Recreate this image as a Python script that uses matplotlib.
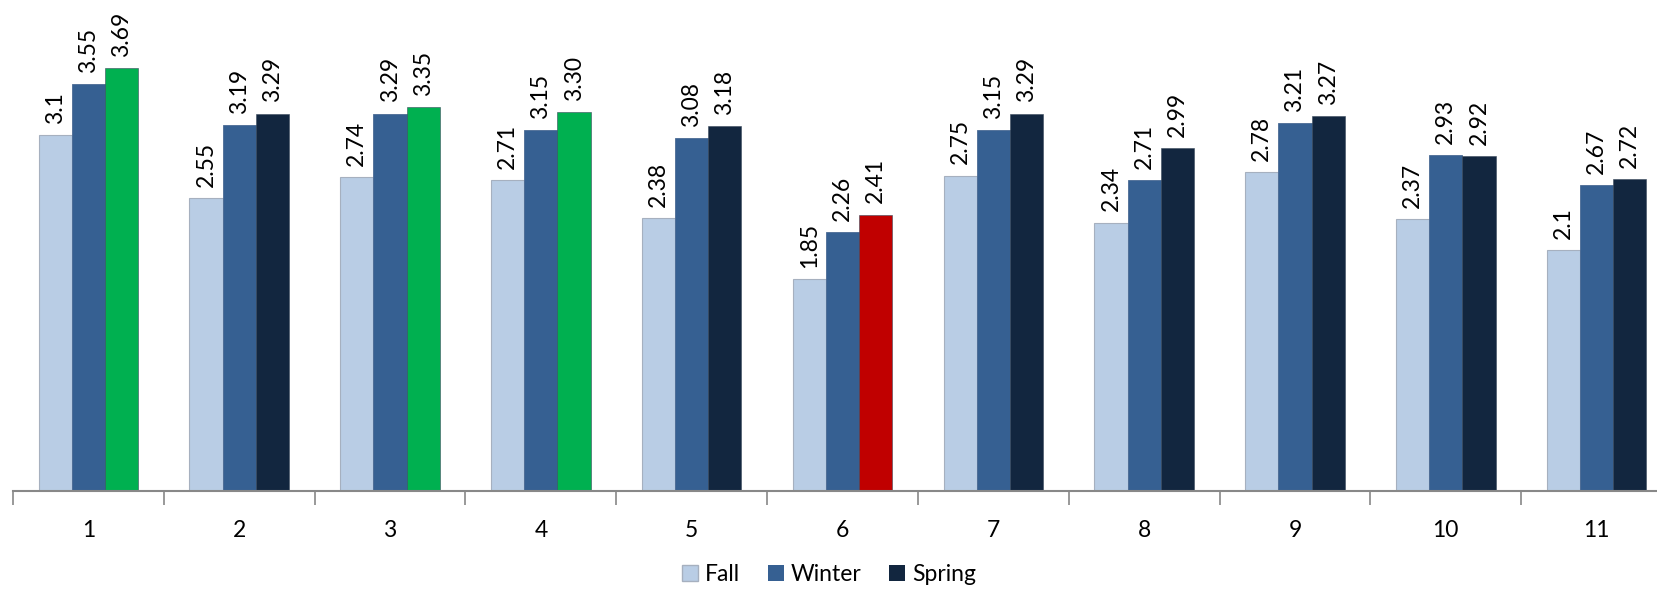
import numpy as np
import matplotlib
matplotlib.use('Agg')
import matplotlib.pyplot as plt
from matplotlib.patches import Patch

plt.rcParams['font.family'] = ['Lato', 'DejaVu Sans']

groups = ['1', '2', '3', '4', '5', '6', '7', '8', '9', '10', '11']
fall = [3.1, 2.55, 2.74, 2.71, 2.38, 1.85, 2.75, 2.34, 2.78, 2.37, 2.1]
winter = [3.55, 3.19, 3.29, 3.15, 3.08, 2.26, 3.15, 2.71, 3.21, 2.93, 2.67]
spring = [3.69, 3.29, 3.35, 3.30, 3.18, 2.41, 3.29, 2.99, 3.27, 2.92, 2.72]
spring_labels = ['3.69', '3.29', '3.35', '3.30', '3.18', '2.41', '3.29', '2.99', '3.27', '2.92', '2.72']
# spring status: 'up' = green, 'down' = red, else default navy
spring_status = ['up', '', 'up', 'up', '', 'down', '', '', '', '', '']

c_fall = '#b9cde5'
c_winter = '#366092'
c_spring = '#12263f'
status_colors = {'up': '#00b050', 'down': '#c00000', '': c_spring}

fig = plt.figure(figsize=(16.58, 5.93), dpi=100)
ax = fig.add_axes([13 / 1658, 102 / 593, 1659 / 1658, 491 / 593])

x = np.arange(len(groups))
w = 0.22
fs = 16.5

ax.bar(x - w, fall, w, color=c_fall, edgecolor='#a6b0bf', linewidth=0.8)
ax.bar(x, winter, w, color=c_winter, edgecolor='#4a6a94', linewidth=0.6)
ax.bar(x + w, spring, w, color=[status_colors[s] for s in spring_status],
       edgecolor='#3a4a5c', linewidth=0.4)

for i in range(len(groups)):
    for dx, v, lab in [(-w, fall[i], f'{fall[i]:g}'),
                       (0, winter[i], f'{winter[i]:.2f}'),
                       (w, spring[i], spring_labels[i])]:
        ax.annotate(lab, (x[i] + dx, v), xytext=(0, 8), textcoords='offset points',
                    rotation=90, ha='center', va='bottom', fontsize=fs, color='black')

ax.set_xlim(-0.5, len(groups) - 0.5)
ax.set_ylim(0, 4.28)

# group boundaries as ticks, labels centred in between
ax.set_xticks(np.arange(-0.5, len(groups)), labels=[])
ax.set_xticks(x, labels=groups, minor=True)
ax.tick_params(axis='x', which='major', length=10, width=1.2, color='#888888', direction='out')
ax.tick_params(axis='x', which='minor', length=0, labelsize=fs, pad=21)
ax.set_yticks([])

for s in ['top', 'right', 'left']:
    ax.spines[s].set_visible(False)
ax.spines['bottom'].set_color('#888888')
ax.spines['bottom'].set_linewidth(1.5)

handles = [Patch(facecolor=c_fall, edgecolor='#a6b0bf'),
           Patch(facecolor=c_winter),
           Patch(facecolor=c_spring)]
fig.legend(handles, ['Fall', 'Winter', 'Spring'], loc='lower center',
           bbox_to_anchor=(0.5, -0.022), ncol=3, frameon=False, fontsize=fs,
           handlelength=0.7, handleheight=0.7, handletextpad=0.3, columnspacing=1.2)

fig.savefig('out.png', dpi=100)
